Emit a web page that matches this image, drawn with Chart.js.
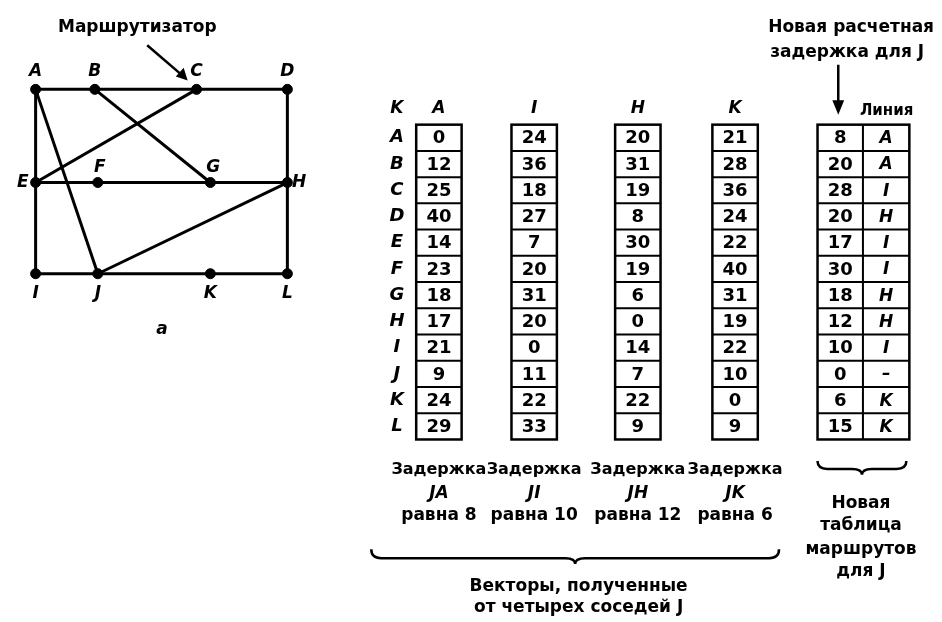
<!DOCTYPE html>
<html>
<head>
<meta charset="utf-8">
<script src="https://cdn.jsdelivr.net/npm/chart.js@4/dist/chart.umd.min.js"></script>
<style>
  html, body { margin: 0; padding: 0; background: #fff; }
  #wrap { width: 942px; height: 622px; position: relative; }
</style>
</head>
<body>
<div id="wrap"><canvas id="fig"></canvas></div>
<script>
// --- data ---
const nodeNames = ['A', 'B', 'C', 'D', 'E', 'F', 'G', 'H', 'I', 'J', 'K', 'L'];
const nodeX = [30, 90, 193, 285, 30, 93, 207, 285, 30, 93, 207, 285];
const nodeY = [85, 85, 85, 85, 180, 180, 180, 180, 273, 273, 273, 273];
const edges = [
  ['A', 'D'], ['A', 'I'], ['D', 'L'], ['E', 'H'], ['I', 'L'],
  ['B', 'G'], ['E', 'C'], ['A', 'J'], ['J', 'H']
];

const destinations = ['A', 'B', 'C', 'D', 'E', 'F', 'G', 'H', 'I', 'J', 'K', 'L'];
const neighbours = ['A', 'I', 'H', 'K'];
const fromA = [0, 12, 25, 40, 14, 23, 18, 17, 21, 9, 24, 29];
const fromI = [24, 36, 18, 27, 7, 20, 31, 20, 0, 11, 22, 33];
const fromH = [20, 31, 19, 8, 30, 19, 6, 0, 14, 7, 22, 9];
const fromK = [21, 28, 36, 24, 22, 40, 31, 19, 22, 10, 0, 9];
const delayJ = [8, 10, 12, 6];
const newDelay = [8, 20, 28, 20, 17, 30, 18, 12, 10, 0, 6, 15];
const newLine = ['A', 'A', 'I', 'H', 'I', 'I', 'H', 'H', 'I', '–', 'K', 'K'];

// layout of the tables (chart units == pixels)
const vecCols = [438.5, 535, 640, 738.5];
const colW = 46;
const tableTop = 121;
const rowH = 26.75;
const rowLabelX = 396;
const routeLeft = 822, routeMid = 868, routeRight = 915;

const FONT = "'DejaVu Sans', 'Liberation Sans', sans-serif";

function pos(name) {
  const i = nodeNames.indexOf(name);
  return { x: nodeX[i], y: nodeY[i] };
}

const datasets = edges.map(e => ({
  data: [pos(e[0]), pos(e[1])],
  showLine: true,
  borderColor: '#000',
  borderWidth: 3,
  pointRadius: 0
}));
datasets.push({
  data: nodeNames.map(n => pos(n)),
  showLine: false,
  pointRadius: 5,
  pointBackgroundColor: '#000',
  pointBorderColor: '#000'
});
// arrows (router pointer and new-delay pointer)
datasets.push({ data: [{x: 143, y: 40}, {x: 180, y: 72}], showLine: true, borderColor: '#000', borderWidth: 2.5, pointRadius: 0 });
datasets.push({ data: [{x: 843, y: 60}, {x: 843, y: 100}], showLine: true, borderColor: '#000', borderWidth: 2.5, pointRadius: 0 });

const drawPlugin = {
  id: 'figure',
  afterDatasetsDraw(chart) {
    const c = chart.ctx;
    const sx = chart.scales.x, sy = chart.scales.y;
    const X = v => sx.getPixelForValue(v);
    const Y = v => sy.getPixelForValue(v);
    c.save();
    c.fillStyle = '#000';
    c.strokeStyle = '#000';
    c.textAlign = 'center';
    c.textBaseline = 'middle';

    const text = (s, x, y, font) => { c.font = font; c.fillText(s, X(x), Y(y)); };
    const lab = "italic bold 17px " + FONT;
    const cap = "bold 17px " + FONT;

    // arrow heads
    c.beginPath();
    c.moveTo(X(184), Y(76)); c.lineTo(X(172), Y(72)); c.lineTo(X(180), Y(63)); c.closePath(); c.fill();
    c.beginPath();
    c.moveTo(X(843), Y(111)); c.lineTo(X(837), Y(96)); c.lineTo(X(849), Y(96)); c.closePath(); c.fill();

    // graph labels
    text('Маршрутизатор', 133, 22, cap);
    const lblOff = {A:[0,-18],B:[0,-18],C:[0,-18],D:[0,-18],E:[-13,0],F:[2,-15],G:[3,-15],H:[12,0],I:[0,20],J:[0,20],K:[0,20],L:[0,20]};
    nodeNames.forEach((n, i) => text(n, nodeX[i] + lblOff[n][0], nodeY[i] + lblOff[n][1], lab));
    text('а', 158, 330, "italic bold 17px " + FONT);

    // header row
    text('K', rowLabelX, 105, lab);
    neighbours.forEach((n, j) => text(n, vecCols[j], 105, lab));
    text('Линия', 892, 107, "bold 15px " + FONT);
    text('Новая расчетная', 856, 22, cap);
    text('задержка для J', 852, 47, cap);

    // row labels
    destinations.forEach((d, i) => text(d, rowLabelX, tableTop + rowH * (i + 0.5), "italic bold 18px " + FONT));

    // vector tables
    const vectors = [fromA, fromI, fromH, fromK];
    const tableBottom = tableTop + rowH * destinations.length;
    const box = (l, r) => {
      c.lineWidth = 2.5;
      c.strokeRect(X(l), Y(tableTop), X(r) - X(l), Y(tableBottom) - Y(tableTop));
      c.lineWidth = 2;
      for (let i = 1; i < destinations.length; i++) {
        c.beginPath();
        c.moveTo(X(l), Y(tableTop + rowH * i));
        c.lineTo(X(r), Y(tableTop + rowH * i));
        c.stroke();
      }
    };
    const num = "bold 18px " + FONT;
    vectors.forEach((vals, j) => {
      const l = vecCols[j] - colW / 2, r = vecCols[j] + colW / 2;
      box(l, r);
      vals.forEach((v, i) => text(String(v), vecCols[j], tableTop + rowH * (i + 0.5) + 1, num));
    });

    // new routing table
    box(routeLeft, routeRight);
    c.lineWidth = 2;
    c.beginPath(); c.moveTo(X(routeMid), Y(tableTop)); c.lineTo(X(routeMid), Y(tableBottom)); c.stroke();
    newDelay.forEach((v, i) => text(String(v), (routeLeft + routeMid) / 2, tableTop + rowH * (i + 0.5) + 1, num));
    newLine.forEach((v, i) => text(v, (routeMid + routeRight) / 2, tableTop + rowH * (i + 0.5) + 1, "italic bold 17px " + FONT));

    // captions under vectors
    neighbours.forEach((n, j) => {
      text('Задержка', vecCols[j], 473, "bold 16px " + FONT);
      text('J' + n, vecCols[j], 497, "italic " + cap);
      text('равна ' + delayJ[j], vecCols[j], 520, cap);
    });

    // braces
    const brace = (l, r, top, depth, tip) => {
      const m = (l + r) / 2;
      c.lineWidth = 2.5;
      c.beginPath();
      c.moveTo(X(l), Y(top));
      c.quadraticCurveTo(X(l), Y(top + depth), X(l + 10), Y(top + depth));
      c.lineTo(X(m - 10), Y(top + depth));
      c.quadraticCurveTo(X(m), Y(top + depth), X(m), Y(top + depth + tip));
      c.quadraticCurveTo(X(m), Y(top + depth), X(m + 10), Y(top + depth));
      c.lineTo(X(r - 10), Y(top + depth));
      c.quadraticCurveTo(X(r), Y(top + depth), X(r), Y(top));
      c.stroke();
    };
    brace(370, 783, 554, 9, 6);
    brace(822, 912, 464, 8, 6);

    text('Векторы, полученные', 580, 592, cap);
    text('от четырех соседей J', 580, 613, cap);
    text('Новая', 866, 507, cap);
    text('таблица', 866, 530, cap);
    text('маршрутов', 866, 554, cap);
    text('для J', 866, 577, cap);

    c.restore();
  }
};

new Chart(document.getElementById('fig'), {
  type: 'scatter',
  data: { datasets },
  options: {
    responsive: true,
    maintainAspectRatio: false,
    animation: false,
    layout: { padding: 0 },
    scales: {
      x: { type: 'linear', min: 0, max: 942, display: false },
      y: { type: 'linear', min: 0, max: 622, reverse: true, display: false }
    },
    plugins: { legend: { display: false }, tooltip: { enabled: false } }
  },
  plugins: [drawPlugin]
});
</script>
</body>
</html>
